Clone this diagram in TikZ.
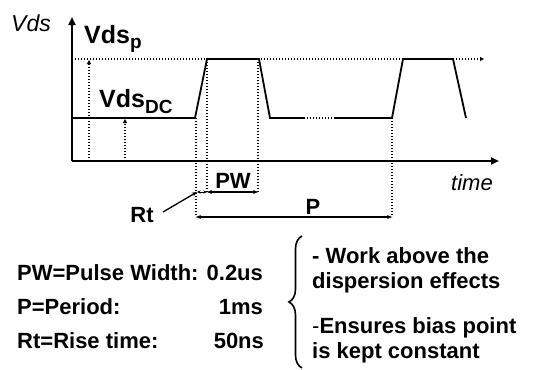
\documentclass[tikz,border=0pt]{standalone}
\usepackage{fontspec}
\setmainfont{Liberation Sans}
\usetikzlibrary{arrows.meta,decorations.pathreplacing}
\newcommand{\fs}[1]{\fontsize{#1}{#1}\selectfont}
\begin{document}
\begin{tikzpicture}[x=1pt,y=-1pt,
  axis/.style={line width=2pt,-{Triangle[length=8pt,width=7pt]}},
  wave/.style={line width=1.8pt,line join=miter},
  dots/.style={line width=1.4pt,dash pattern=on 1.4pt off 1.6pt},
  dotarrow/.style={dots,-{Triangle[length=4pt,width=4pt]}},
  dim/.style={line width=1.2pt,{Stealth[length=5pt,width=4pt]}-{Stealth[length=5pt,width=4pt]}},
  lbl/.style={inner sep=0pt,font=\fs{22}\bfseries},
  itl/.style={inner sep=0pt,font=\fs{23}\itshape},
]
\useasboundingbox (0,0) rectangle (539,370);
% key coordinates
\coordinate (O) at (72,161);
\coordinate (ytop) at (72,17);
\coordinate (xend) at (499,161);
\coordinate (a0) at (72,118);
\coordinate (a1) at (195,118);
\coordinate (a2) at (207,59);
\coordinate (a3) at (259,59);
\coordinate (a4) at (270,118);
\coordinate (a5) at (304,118);
\coordinate (a6) at (335,118);
\coordinate (a7) at (392,118);
\coordinate (a8) at (403,59);
\coordinate (a9) at (453,59);
\coordinate (a10) at (466,118);
\coordinate (ptop) at (72,59);
\coordinate (pend) at (484,59);
% axes
\draw[axis] (O) -- (ytop);
\draw[axis] (O) -- (xend);
% top dotted level
\draw[dotarrow] (ptop) -- (pend);
% waveform
\draw[wave] (a0) -- (a1) -- (a2) -- (a3) -- (a4) -- (a5);
\draw[dots] (a5) -- (a6);
\draw[wave] (a6) -- (a7) -- (a8) -- (a9) -- (a10);
% level arrows
\coordinate (v1b) at (89,161); \coordinate (v1t) at (89,60);
\coordinate (v2b) at (125,161); \coordinate (v2t) at (125,119);
\draw[dotarrow] (v1b) -- (v1t);
\draw[dotarrow] (v2b) -- (v2t);
% vertical dotted guides
\coordinate (g1) at (196,217);
\coordinate (g2) at (207,192);
\coordinate (g3) at (258,192);
\coordinate (g4) at (392,217);
\draw[dots] (196,118) -- (g1);
\draw[dots] (a2) -- (g2);
\draw[dots] (258,59) -- (g3);
\draw[dots] (a7) -- (g4);
% dimension arrows
\draw[dim] (g2) -- (g3);
\draw[dim] (g1) -- (g4);
\coordinate (r1) at (197,192);
\draw[line width=1pt,{Stealth[length=3.5pt,width=3pt]}-{Stealth[length=3.5pt,width=3pt]}] (r1) -- (g2);
% labels
\node[itl] (vds) at (31,23) {Vds};
\node[itl,font=\fs{22}\itshape] (time) at (472,183) {time};
\node[inner sep=0pt,anchor=base west,font=\fs{25}\bfseries] (vdsp) at (84,43) {Vds\raisebox{-5pt}{\fs{19}p}};
\node[inner sep=0pt,anchor=base west,font=\fs{25}\bfseries] (vdsdc) at (99,107) {Vds\raisebox{-6pt}{\fs{19}DC}};
\node[lbl] (pw) at (233,181) {PW};
\node[lbl] (p) at (313,207) {P};
\node[lbl] (rt) at (142,215) {Rt};
\coordinate (rts) at (163,212);
\draw[line width=1.3pt,-{Stealth[length=5pt,width=4pt]}] (rts) -- (r1);
% parameter list
\node[lbl,anchor=base west] (l1) at (17,280) {PW=Pulse Width: 0.2us};
\node[lbl,anchor=base west] (l2) at (17,314) {P=Period:};
\node[lbl,anchor=base east] (l2v) at (l1.base east |- l2.base) {1ms};
\node[lbl,anchor=base west] (l3) at (17,348) {Rt=Rise time:};
\node[lbl,anchor=base east] (l3v) at ([xshift=1pt]l1.base east |- l3.base) {50ns};
% brace
\coordinate (bt) at (302,236);
\coordinate (bb) at (302,368);
\draw[line width=1.6pt,decorate,decoration={brace,amplitude=13pt}] (bb) -- (bt);
% remarks
\node[lbl,anchor=base west] (m1) at (312,263) {- Work above the};
\node[lbl,anchor=base west] (m2) at (312,288) {dispersion effects};
\node[lbl,anchor=base west] (m3) at (312,333) {\mdseries-\bfseries Ensures bias point};
\node[lbl,anchor=base west] (m4) at (312,358) {is kept constant};
\end{tikzpicture}
\end{document}
